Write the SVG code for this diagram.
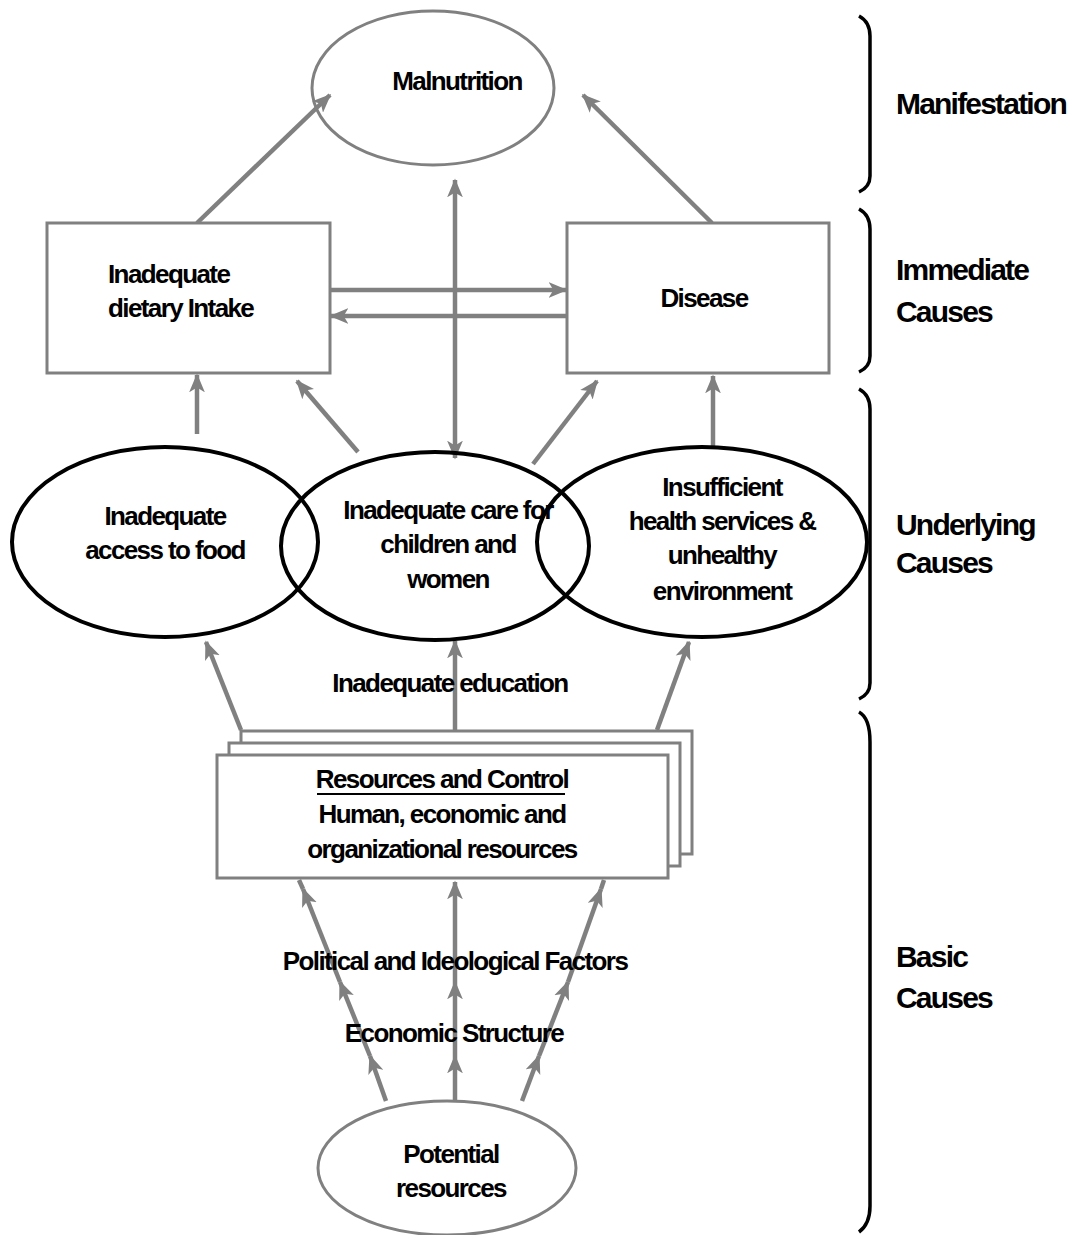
<svg xmlns="http://www.w3.org/2000/svg" width="1075" height="1235" viewBox="0 0 1075 1235">
<defs>
<marker id="ah" viewBox="0 0 12 10" refX="11" refY="5" markerWidth="4.2" markerHeight="3.6" orient="auto" markerUnits="strokeWidth">
<path d="M0,0 L12,5 L0,10 L3,5 z" fill="#808080"/>
</marker>
<style>
.t{font-family:"Liberation Sans",Arial,sans-serif;font-weight:bold;font-size:26px;letter-spacing:-1.6px;fill:#000;text-anchor:middle}
.lab{font-family:"Liberation Sans",Arial,sans-serif;font-weight:bold;font-size:30px;letter-spacing:-1.8px;fill:#000}
.gbox{fill:#fff;stroke:#808080;stroke-width:3}
.bell{fill:none;stroke:#000;stroke-width:4}
.c{fill:none;stroke:#808080;stroke-width:4.5;marker-end:url(#ah)}
.cl{fill:none;stroke:#808080;stroke-width:4.5}
.br{fill:none;stroke:#000;stroke-width:3.5}
</style>
</defs>
<rect width="1075" height="1235" fill="#fff"/>

<g id="connectors">
<line class="c" x1="197" y1="223" x2="330" y2="95"/>
<line class="c" x1="712" y1="223" x2="583" y2="95"/>
<line class="c" x1="455" y1="300" x2="455" y2="180"/>
<line class="c" x1="455" y1="300" x2="455" y2="458"/>
<line class="c" x1="331" y1="290" x2="566" y2="290"/>
<line class="c" x1="566" y1="316" x2="331" y2="316"/>
<line class="c" x1="197" y1="434" x2="197" y2="375"/>
<line class="c" x1="358" y1="452" x2="297" y2="381"/>
<line class="c" x1="533" y1="464" x2="597" y2="381"/>
<line class="c" x1="713" y1="446" x2="713" y2="376"/>
<line class="c" x1="241" y1="730" x2="206" y2="642"/>
<line class="c" x1="455" y1="730" x2="455" y2="641"/>
<line class="c" x1="657" y1="730" x2="689" y2="642"/>
<line class="c" x1="386" y1="1101" x2="370" y2="1056"/>
<line class="c" x1="370" y1="1056" x2="340" y2="982"/>
<line class="c" x1="340" y1="982" x2="303" y2="889"/>
<line class="cl" x1="303" y1="889" x2="299" y2="880"/>
<line class="c" x1="455" y1="1101" x2="455" y2="1056"/>
<line class="c" x1="455" y1="1056" x2="455" y2="982"/>
<line class="c" x1="455" y1="982" x2="455" y2="882"/>
<line class="c" x1="522" y1="1101" x2="539" y2="1056"/>
<line class="c" x1="539" y1="1056" x2="568" y2="982"/>
<line class="c" x1="568" y1="982" x2="601" y2="889"/>
<line class="cl" x1="601" y1="889" x2="604" y2="880"/>
</g>

<g id="malnutrition">
<ellipse cx="433" cy="88" rx="121" ry="77" fill="none" stroke="#808080" stroke-width="3"/>
<text class="t" x="457" y="90">Malnutrition</text>
</g>

<g id="dietary-intake">
<rect class="gbox" x="47" y="223" width="283" height="150" fill="none"/>
<text class="t" x="108" y="283" style="text-anchor:start">Inadequate</text>
<text class="t" x="108" y="317" style="text-anchor:start">dietary Intake</text>
</g>

<g id="disease">
<rect class="gbox" x="567" y="223" width="262" height="150" fill="none"/>
<text class="t" x="704" y="307">Disease</text>
</g>

<g id="access-food">
<ellipse class="bell" cx="165" cy="542" rx="153" ry="95"/>
<text class="t" x="165" y="525">Inadequate</text>
<text class="t" x="165" y="559">access to food</text>
</g>

<g id="care">
<ellipse class="bell" cx="435" cy="546" rx="154" ry="94"/>
<text class="t" x="448" y="519">Inadequate care for</text>
<text class="t" x="448" y="553">children and</text>
<text class="t" x="448" y="588">women</text>
</g>

<g id="health">
<ellipse class="bell" cx="702" cy="542" rx="165" ry="95" stroke-width="4.5"/>
<text class="t" x="722" y="496">Insufficient</text>
<text class="t" x="722" y="530">health services &amp;</text>
<text class="t" x="722" y="564">unhealthy</text>
<text class="t" x="722" y="600">environment</text>
</g>

<text class="t" x="450" y="692">Inadequate education</text>

<g id="resources">
<rect class="gbox" x="241" y="731" width="451" height="123"/>
<rect class="gbox" x="229" y="743" width="451" height="123"/>
<rect class="gbox" x="217" y="755" width="451" height="123"/>
<text class="t" x="442" y="788">Resources and Control</text>
<line x1="317" y1="794" x2="565" y2="794" stroke="#000" stroke-width="2"/>
<text class="t" x="442" y="823">Human, economic and</text>
<text class="t" x="442" y="858">organizational resources</text>
</g>

<text class="t" x="455" y="970">Political and Ideological Factors</text>
<text class="t" x="454" y="1042">Economic Structure</text>

<g id="potential">
<ellipse cx="447" cy="1168" rx="129" ry="67" fill="#fff" stroke="#808080" stroke-width="3"/>
<text class="t" x="451" y="1163">Potential</text>
<text class="t" x="451" y="1197">resources</text>
</g>

<g id="braces">
<path class="br" d="M859,16 Q870,22 870,36 L870,176 Q870,187 859,192"/>
<path class="br" d="M859,209 Q870,215 870,229 L870,356 Q870,367 859,372"/>
<path class="br" d="M859,389 Q870,395 870,409 L870,683 Q870,694 859,699"/>
<path class="br" d="M859,712 Q870,718 870,742 L870,1206 Q870,1224 859,1232"/>
</g>

<g id="labels">
<text class="lab" x="896" y="114">Manifestation</text>
<text class="lab" x="896" y="280">Immediate</text>
<text class="lab" x="896" y="322">Causes</text>
<text class="lab" x="896" y="535">Underlying</text>
<text class="lab" x="896" y="573">Causes</text>
<text class="lab" x="896" y="967">Basic</text>
<text class="lab" x="896" y="1008">Causes</text>
</g>
</svg>
